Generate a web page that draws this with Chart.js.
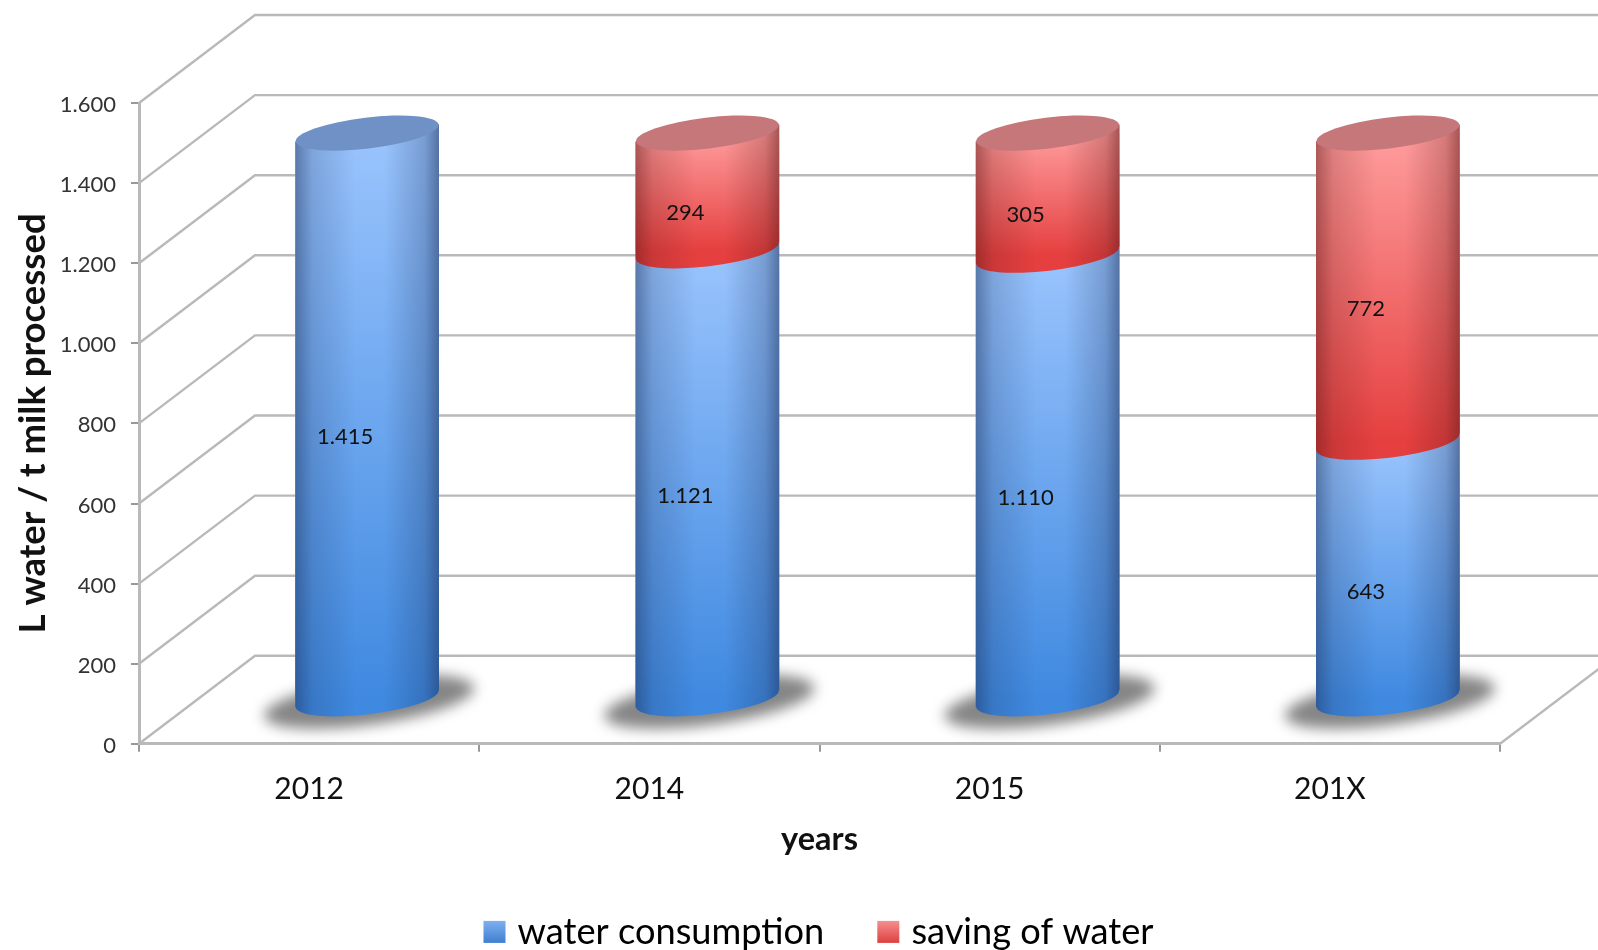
<!DOCTYPE html>
<html lang="en">
<head>
<meta charset="UTF-8">
<title>Water consumption</title>
<script src="https://cdn.jsdelivr.net/npm/chart.js"></script>
<style>
  html, body { margin: 0; padding: 0; background: #fff; overflow: hidden; }
  #wrap { width: 1598px; height: 950px; }
</style>
</head>
<body>
<div id="wrap"><canvas id="chart" width="1598" height="950"></canvas></div>
<script>
const years = ["2012", "2014", "2015", "201X"];
const waterConsumption = [1415, 1121, 1110, 643];
const savingOfWater = [0, 294, 305, 772];
const yTicks = [0, 200, 400, 600, 800, 1000, 1200, 1400, 1600];

const FONT = "Lato, 'Open Sans', sans-serif";
const AXIS_GREY = "#b9b9b9";
// depth of the fake 3D box, cylinders stand half way in
const DEPTH_X = 116, DEPTH_Y = 88;
const BAR_DX = 58, BAR_DY = -44;
const TILT = -6.8 * Math.PI / 180;
const RY = 15.5;
const LEGEND_SWATCH = 22;

const palette = {
  water: { top: "#9ac4fd", bottom: "#3f89e0", cap: "#6f91c6", legendA: "#7fb0f0", legendB: "#3f7fd0", shade: "28,48,90" },
  saving: { top: "#ff9d9d", bottom: "#e53f3f", cap: "#c5777a", legendA: "#f58f8f", legendB: "#dd4040", shade: "95,25,25" }
};

function formatTick(v) {
  return v >= 1000 ? Math.floor(v / 1000) + "." + String(v % 1000).padStart(3, "0") : String(v);
}

function bodyGradient(ctx, pal, from, to) {
  const y = ctx.chart.scales.y;
  const g = ctx.chart.ctx.createLinearGradient(0, y.getPixelForValue(to), 0, y.getPixelForValue(from));
  g.addColorStop(0, pal.top);
  g.addColorStop(1, pal.bottom);
  return g;
}

// outline of one cylinder piece: tilted chord on top, full ellipse at the base
function silhouette(ctx, el, topExtra) {
  const rx = el.width / 2;
  const sy = rx * Math.sin(TILT);
  ctx.moveTo(el.x - rx, el.y - sy - topExtra);
  ctx.lineTo(el.x + rx, el.y + sy - topExtra);
  ctx.lineTo(el.x + rx, el.base + sy);
  ctx.lineTo(el.x - rx, el.base - sy);
  ctx.closePath();
  ctx.moveTo(el.x + rx, el.base);
  ctx.ellipse(el.x, el.base, rx, RY, TILT, 0, Math.PI * 2);
  ctx.closePath();
}

function fillPiece(ctx, el, pal, topExtra) {
  ctx.fillStyle = el.options.backgroundColor;
  ctx.beginPath();
  silhouette(ctx, el, topExtra);
  ctx.fill();

  // round shading, darker at both sides
  const rx = el.width / 2;
  const shade = ctx.createLinearGradient(el.x - rx, 0, el.x + rx, 0);
  shade.addColorStop(0, "rgba(" + pal.shade + ",0.5)");
  shade.addColorStop(0.12, "rgba(" + pal.shade + ",0.2)");
  shade.addColorStop(0.42, "rgba(" + pal.shade + ",0)");
  shade.addColorStop(0.62, "rgba(" + pal.shade + ",0)");
  shade.addColorStop(0.9, "rgba(" + pal.shade + ",0.26)");
  shade.addColorStop(1, "rgba(" + pal.shade + ",0.55)");
  ctx.fillStyle = shade;
  ctx.beginPath();
  silhouette(ctx, el, topExtra);
  ctx.fill();
}

const cylinderPlugin = {
  id: "cylinders",
  afterLayout(chart) {
    // legend sits a bit lower than the layout allows
    chart.legend.top += 10;
    chart.legend.bottom += 10;
  },
  beforeDatasetsDraw(chart) {
    const { ctx, scales: { y }, chartArea: a } = chart;
    ctx.save();
    ctx.strokeStyle = AXIS_GREY;
    ctx.lineWidth = 2.4;
    yTicks.forEach((v) => {
      const py = y.getPixelForValue(v);
      ctx.beginPath();
      ctx.moveTo(a.left, py);
      ctx.lineTo(a.left + DEPTH_X, py - DEPTH_Y);
      ctx.lineTo(chart.width, py - DEPTH_Y);
      ctx.stroke();
    });
    ctx.beginPath();
    ctx.moveTo(a.right, a.bottom);
    ctx.lineTo(a.right + DEPTH_X, a.bottom - DEPTH_Y);
    ctx.stroke();
    ctx.restore();

    // floor shadows
    const base = chart.getDatasetMeta(0).data;
    ctx.save();
    ctx.filter = "blur(7px)";
    ctx.fillStyle = "#858585";
    base.forEach((el) => {
      ctx.beginPath();
      ctx.ellipse(el.x + BAR_DX + 2, el.base + BAR_DY + 3, 106, 23, TILT * 1.15, 0, Math.PI * 2);
      ctx.fill();
    });
    ctx.restore();

    ctx.save();
    ctx.translate(BAR_DX, BAR_DY);
  },
  beforeDatasetDraw(chart, args) {
    const { ctx } = chart;
    ctx.save();
    ctx.beginPath();
    args.meta.data.forEach((el) => silhouette(ctx, el, 0));
    ctx.clip();
  },
  afterDatasetDraw(chart) {
    chart.ctx.restore();
  },
  afterDatasetsDraw(chart) {
    const { ctx } = chart;
    const water = chart.getDatasetMeta(0).data;
    const saving = chart.getDatasetMeta(1).data;

    water.forEach((wEl, i) => {
      const sEl = saving[i];
      const hasSaving = savingOfWater[i] > 0;

      fillPiece(ctx, wEl, palette.water, 0);
      if (hasSaving) fillPiece(ctx, sEl, palette.saving, 0);

      // top cap
      const topEl = hasSaving ? sEl : wEl;
      ctx.fillStyle = hasSaving ? palette.saving.cap : palette.water.cap;
      ctx.beginPath();
      ctx.ellipse(topEl.x, topEl.y, wEl.width / 2, RY, TILT, 0, Math.PI * 2);
      ctx.fill();
    });

    // value labels
    ctx.fillStyle = "#111";
    ctx.font = "22px " + FONT;
    ctx.textAlign = "center";
    ctx.textBaseline = "middle";
    [[water, waterConsumption], [saving, savingOfWater]].forEach(([els, vals]) => {
      els.forEach((el, i) => {
        if (vals[i] > 0) ctx.fillText(formatTick(vals[i]), el.x - 22, (el.y + el.base) / 2 + 21);
      });
    });

    ctx.restore();
  },
  afterDraw(chart) {
    // legend swatches sit closer to their text than the library puts them
    const { ctx, legend } = chart;
    [palette.water, palette.saving].forEach((pal, i) => {
      const hit = legend.legendHitBoxes[i];
      const top = hit.top + hit.height / 2 - LEGEND_SWATCH / 2;
      const g = ctx.createLinearGradient(0, top, 0, top + LEGEND_SWATCH);
      g.addColorStop(0, pal.legendA);
      g.addColorStop(1, pal.legendB);
      ctx.fillStyle = g;
      ctx.fillRect(hit.left - 2, top, LEGEND_SWATCH, LEGEND_SWATCH);
    });
  }
};

new Chart(document.getElementById("chart"), {
  type: "bar",
  plugins: [cylinderPlugin],
  data: {
    labels: years,
    datasets: [
      {
        label: "water consumption",
        data: waterConsumption,
        stack: "a",
        backgroundColor: (c) => bodyGradient(c, palette.water, 0, waterConsumption[c.dataIndex])
      },
      {
        label: "saving of water",
        data: savingOfWater,
        stack: "a",
        backgroundColor: (c) => bodyGradient(c, palette.saving, waterConsumption[c.dataIndex],
          waterConsumption[c.dataIndex] + savingOfWater[c.dataIndex])
      }
    ]
  },
  options: {
    responsive: false,
    animation: false,
    layout: { padding: { top: 103, right: 98, left: 0, bottom: 0 } },
    datasets: { bar: { barPercentage: 1, categoryPercentage: 0.4225 } },
    plugins: {
      tooltip: { enabled: false },
      legend: {
        position: "bottom",
        fullSize: false,
        labels: {
          color: "#111",
          font: { family: FONT, size: 36.2 },
          boxWidth: 14,
          boxHeight: 22,
          padding: 55,
          generateLabels: () => [
            { text: "water consumption", fillStyle: "transparent", lineWidth: 0, strokeStyle: "transparent", datasetIndex: 0 },
            { text: "saving of water", fillStyle: "transparent", lineWidth: 0, strokeStyle: "transparent", datasetIndex: 1 }
          ]
        }
      }
    },
    scales: {
      x: {
        stacked: true,
        afterFit(s) { s.height = 105; },
        border: { color: AXIS_GREY, width: 3 },
        grid: { drawOnChartArea: false, color: "#999", lineWidth: 2, tickLength: 8, offset: true },
        ticks: { color: "#111", font: { family: FONT, size: 30 }, padding: 20, maxRotation: 0 },
        title: {
          display: true,
          text: "years",
          color: "#111",
          font: { family: FONT, size: 32.5, weight: "bold" },
          padding: { top: 0, bottom: -10 }
        }
      },
      y: {
        stacked: true,
        min: 0,
        max: 1600,
        afterFit(s) { s.width = 139; },
        afterBuildTicks(s) { s.ticks = yTicks.map((v) => ({ value: v })); },
        border: { color: AXIS_GREY, width: 3 },
        grid: { drawOnChartArea: false, color: "#999", lineWidth: 2, tickLength: 8 },
        ticks: { color: "#333", font: { family: FONT, size: 22 }, padding: 15, labelOffset: 2, callback: formatTick },
        title: {
          display: true,
          text: "L water / t milk processed",
          color: "#111",
          font: { family: FONT, size: 36.5, weight: "bold" },
          padding: { top: 11, bottom: 0 }
        }
      }
    }
  }
});
</script>
</body>
</html>
